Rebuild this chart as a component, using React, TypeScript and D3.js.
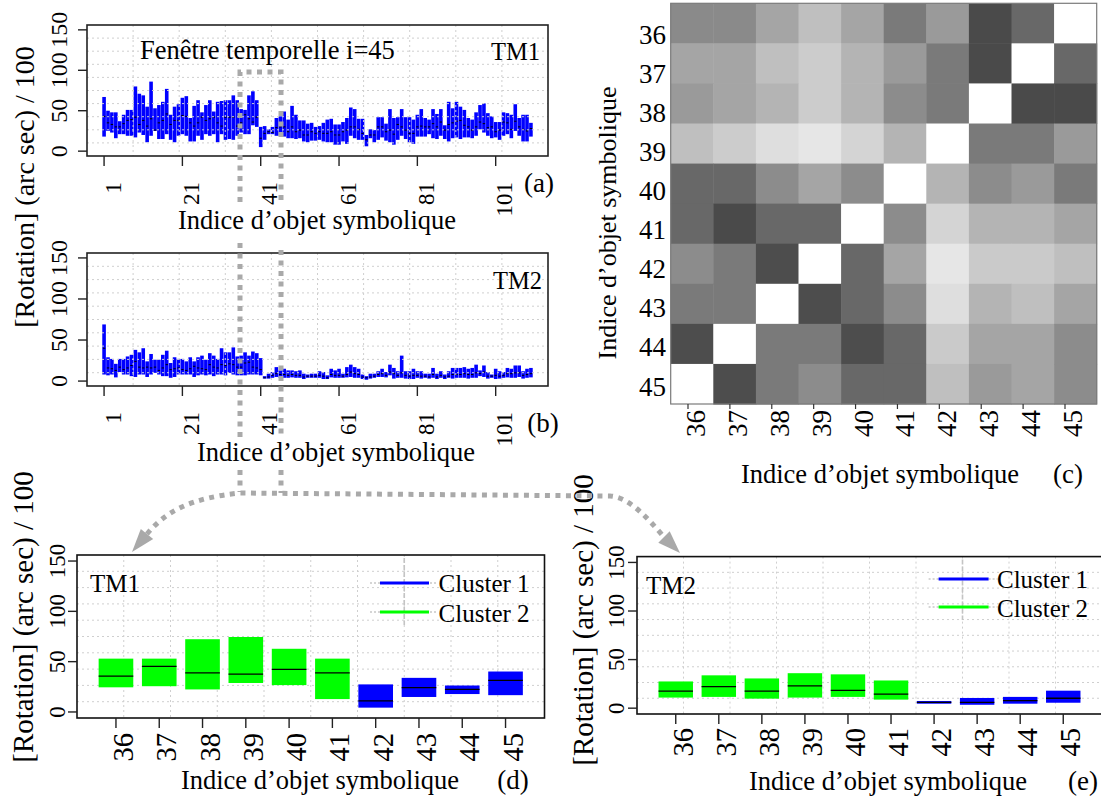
import React from "react";
import * as d3 from "d3";

const FONT = "'Liberation Serif', 'Times New Roman', serif";

// ---------- data ----------
const objectIndex = d3.range(1, 111);
const seriesTicks = [1, 21, 41, 61, 81, 101];
const rotTicks = [0, 50, 100, 150];
const windowIdx = [36, 37, 38, 39, 40, 41, 42, 43, 44, 45];

const tm1Hi = [
  67, 50, 48, 48, 37, 45, 51, 51, 80, 71,
  69, 55, 86, 53, 57, 61, 77, 45, 55, 58,
  66, 68, 41, 56, 63, 48, 57, 63, 49, 61,
  62, 63, 63, 69, 63, 52, 51, 69, 74, 63,
  30, 31, 27, 30, 41, 43, 49, 39, 56, 45,
  38, 38, 34, 35, 30, 31, 35, 39, 40, 33,
  33, 36, 41, 54, 52, 40, 40, 20, 27, 26,
  42, 42, 34, 52, 41, 42, 52, 42, 42, 39,
  45, 52, 41, 39, 52, 46, 52, 32, 61, 53,
  61, 55, 51, 41, 39, 48, 57, 59, 47, 43,
  36, 36, 48, 47, 45, 58, 41, 45, 45, 35,
];
const tm1Lo = [
  18, 25, 23, 16, 21, 21, 19, 19, 17, 23,
  20, 11, 19, 25, 15, 15, 21, 14, 11, 19,
  21, 19, 12, 12, 19, 14, 21, 19, 21, 11,
  21, 14, 15, 14, 19, 23, 21, 21, 32, 30,
  5, 14, 21, 21, 19, 19, 18, 16, 16, 15,
  16, 12, 11, 13, 13, 14, 12, 11, 11, 8,
  8, 12, 9, 19, 16, 14, 14, 6, 16, 11,
  14, 17, 13, 11, 8, 14, 19, 15, 11, 9,
  18, 18, 18, 21, 16, 15, 19, 15, 12, 16,
  17, 15, 17, 17, 16, 19, 27, 23, 19, 16,
  17, 14, 19, 21, 16, 25, 19, 12, 12, 18,
];
const tm1Med = [
  43, 35, 33, 30, 30, 34, 38, 39, 42, 33,
  38, 31, 40, 26, 35, 38, 46, 33, 38, 38,
  44, 43, 35, 31, 35, 42, 38, 40, 42, 35,
  31, 42, 42, 42, 31, 35, 45, 40, 36, 42,
  16, 22, 24, 23, 29, 30, 30, 24, 30, 24,
  26, 20, 20, 24, 22, 24, 22, 22, 24, 20,
  20, 24, 26, 30, 30, 27, 22, 14, 20, 20,
  30, 30, 24, 26, 21, 33, 30, 26, 22, 22,
  30, 31, 30, 30, 34, 30, 36, 26, 33, 35,
  37, 38, 32, 30, 26, 30, 36, 34, 29, 30,
  24, 26, 36, 35, 27, 37, 30, 27, 25, 28,
];

const tm2Hi = [
  69, 29, 27, 21, 27, 27, 30, 32, 38, 35,
  40, 24, 33, 26, 26, 32, 37, 22, 29, 27,
  27, 24, 29, 24, 29, 31, 26, 34, 31, 27,
  40, 35, 35, 41, 30, 31, 35, 31, 36, 34,
  28, 6, 9, 11, 17, 13, 15, 13, 13, 12,
  13, 9, 8, 9, 9, 12, 11, 7, 15, 13,
  15, 9, 17, 20, 17, 15, 8, 6, 9, 9,
  12, 15, 11, 20, 16, 12, 31, 12, 12, 15,
  12, 12, 9, 9, 16, 9, 12, 8, 12, 16,
  16, 16, 17, 15, 16, 20, 13, 19, 11, 8,
  15, 12, 11, 16, 15, 19, 19, 12, 15, 16,
];
const tm2Lo = [
  8, 7, 8, 4.5, 11, 8, 8, 6, 5, 8,
  8, 5, 8, 10, 8, 6, 6, 4, 5, 8,
  8, 8, 8, 5, 7, 8, 7, 8, 6, 8,
  8, 7, 10, 8, 7, 7, 7, 8, 8, 8,
  7, 3, 3, 4, 5, 4, 4, 4, 4.5, 4,
  4, 2.5, 4, 4, 4, 4, 2.5, 2.5, 4.5, 4,
  4, 4, 4.5, 5, 4, 4, 2.5, 1.6, 3, 4,
  5, 5, 4.5, 7, 3, 4, 4, 3, 2.5, 2.5,
  4, 3, 4, 3, 4, 2.5, 4, 2.5, 4, 3,
  4, 4, 4, 3, 4, 4, 6, 5, 3, 4,
  2.5, 3, 4, 4.5, 4, 4, 5, 3, 4, 4.5,
];
const tm2Med = [
  40, 16, 15, 13, 17, 14, 16, 19, 24, 17,
  16, 17, 16, 17, 13, 16, 20, 14, 15, 16,
  14, 13, 15, 18, 16, 15, 14, 20, 17, 16,
  20, 19, 21, 20, 17, 17, 22, 23, 17, 16,
  14, 4, 5, 7, 9, 8, 8, 7, 8, 7,
  7, 5, 6, 6, 6, 7, 6, 4, 8, 7,
  7, 6, 8, 11, 9, 8, 5, 4, 5, 6,
  8, 9, 7, 11, 9, 7, 10, 7, 6, 7,
  7, 6, 6, 5, 8, 5, 7, 5, 6, 8,
  8, 8, 9, 8, 8, 10, 9, 11, 6, 6,
  7, 6, 7, 9, 9, 10, 10, 7, 8, 9,
];

const winTm1Lo = [24.5, 25.6, 22.4, 28.8, 26.7, 12.8, 4.3, 14.9, 17.8, 16.7];
const winTm1Hi = [53, 53, 72.3, 74.5, 62.8, 53, 27.4, 33.9, 26.3, 40.2];
const winTm1Med = [35.6, 45.3, 38.8, 37.7, 42.4, 38.8, 11, 24.2, 22.4, 31.4];
const winTm2Lo = [10.9, 11.6, 9.8, 10.9, 11.6, 8.8, 4.6, 3.5, 4.6, 5.6];
const winTm2Hi = [27.5, 33.8, 30.6, 36, 34.8, 28.5, 7.4, 10.5, 11.6, 18];
const winTm2Med = [17.6, 22.2, 17.6, 22.9, 18.3, 14.4, 6, 6, 7.8, 10.2];
const clusterOf = [2, 2, 2, 2, 2, 2, 1, 1, 1, 1];
const clusterNames = ["Cluster 1", "Cluster 2"];
const clusterColors = ["#0000ff", "#00ff00"];

// grey level (0-255) of each heat-map cell, rows 36..45 (top to bottom), columns 36..45
const heatLevels = [
  [138, 138, 165, 191, 165, 122, 154, 74, 104, 255],
  [165, 165, 191, 204, 180, 154, 122, 74, 255, 104],
  [154, 165, 180, 204, 180, 140, 122, 255, 74, 74],
  [191, 204, 222, 230, 212, 180, 255, 122, 122, 154],
  [104, 104, 140, 165, 140, 255, 180, 140, 154, 122],
  [104, 74, 104, 104, 255, 140, 212, 180, 180, 165],
  [140, 122, 77, 255, 104, 165, 230, 202, 202, 191],
  [122, 122, 255, 77, 104, 140, 222, 180, 191, 165],
  [77, 255, 122, 122, 77, 104, 202, 165, 165, 140],
  [255, 77, 122, 140, 104, 104, 191, 154, 165, 140],
];

// ---------- helpers ----------
const GRID = "#cfcfcf";

function Grid({ x0, x1, y0, y1 }: any) {
  const ks = d3.range(1, 10);
  return (
    <g stroke={GRID} strokeWidth={1} strokeDasharray="2 3" fill="none">
      {ks.map((k) => {
        const gx = x0 + ((x1 - x0) * k) / 10;
        return <line key={"v" + k} x1={gx} x2={gx} y1={y0} y2={y1} />;
      })}
      {ks.map((k) => {
        const gy = y0 + ((y1 - y0) * k) / 10;
        return <line key={"h" + k} x1={x0} x2={x1} y1={gy} y2={gy} />;
      })}
    </g>
  );
}

function VText({ x, y, size, anchor, children }: any) {
  return (
    <text
      transform={`translate(${x},${y}) rotate(-90)`}
      fontSize={size}
      textAnchor={anchor}
      fontFamily={FONT}
      fill="#000"
    >
      {children}
    </text>
  );
}

function SeriesPanel(p: any) {
  const { lo, hi, med, x0, x1, y0, y1, tickEndY, tag, tagX, tagY, letter, letterX, letterY, titleX, titleY } = p;
  const x = d3.scaleLinear().domain([1 - 4.36, 110 + 4.36]).range([x0, x1]);
  const y = d3.scaleLinear().domain([-6, 156]).range([y1, y0]);
  const step = x(2) - x(1);
  const bw = step * 0.92;
  const mw = step * 0.6;
  return (
    <g>
      {objectIndex.map((idx, i) => (
        <rect
          key={idx}
          x={x(idx) - bw / 2}
          y={y(hi[i])}
          width={bw}
          height={y(lo[i]) - y(hi[i])}
          fill="#0000ff"
        />
      ))}
      {objectIndex.map((idx, i) => (
        <line
          key={"m" + idx}
          x1={x(idx) - mw / 2}
          x2={x(idx) + mw / 2}
          y1={y(med[i])}
          y2={y(med[i])}
          stroke="#000"
          strokeWidth={1}
        />
      ))}
      <Grid x0={x0} x1={x1} y0={y0} y1={y1} />
      <rect x={x0} y={y0} width={x1 - x0} height={y1 - y0} fill="none" stroke="#222" strokeWidth={1.6} />
      {seriesTicks.map((t) => (
        <g key={t}>
          <line x1={x(t)} x2={x(t)} y1={y1} y2={y1 + 10} stroke="#222" strokeWidth={1.4} />
          <VText x={x(t) + 16.5} y={tickEndY} size={23} anchor="end">
            {t}
          </VText>
        </g>
      ))}
      {rotTicks.map((t) => (
        <g key={t}>
          <line x1={x0} x2={x0 - 9} y1={y(t)} y2={y(t)} stroke="#222" strokeWidth={1.4} />
          <VText x={67} y={y(t)} size={24} anchor="middle">
            {t}
          </VText>
        </g>
      ))}
      <text x={tagX} y={tagY} fontSize={24.5} textAnchor="end" fontFamily={FONT}>
        {tag}
      </text>
      <text x={letterX} y={letterY} fontSize={27} textAnchor="middle" fontFamily={FONT}>
        {letter}
      </text>
      <text x={titleX} y={titleY} fontSize={26.5} textAnchor="middle" fontFamily={FONT}>
        Indice d’objet symbolique
      </text>
    </g>
  );
}

function BoxPanel(p: any) {
  const { lo, hi, med, x0, x1, y0, y1, yTickX, xTickEndY, tag, tagX, tagY, legX0, legX1, legRows, legTextX,
    letter, letterX, letterY, titleX, titleY, yTitleX, yTitleY } = p;
  const x = d3.scaleLinear().domain([0.1, 10.9]).range([x0, x1]);
  const y = d3.scaleLinear().domain([-6, 156]).range([y1, y0]);
  const bw = (x(2) - x(1)) * 0.8;
  const gridX7 = x0 + ((x1 - x0) * 7) / 10;
  return (
    <g>
      <Grid x0={x0} x1={x1} y0={y0} y1={y1} />
      {windowIdx.map((w, i) => (
        <g key={w}>
          <rect
            x={x(i + 1) - bw / 2}
            y={y(hi[i])}
            width={bw}
            height={y(lo[i]) - y(hi[i])}
            fill={clusterColors[clusterOf[i] - 1]}
          />
          <line
            x1={x(i + 1) - bw / 2}
            x2={x(i + 1) + bw / 2}
            y1={y(med[i])}
            y2={y(med[i])}
            stroke="#000"
            strokeWidth={1.3}
          />
        </g>
      ))}
      <rect x={x0} y={y0} width={x1 - x0} height={y1 - y0} fill="none" stroke="#111" strokeWidth={1.6} />
      {windowIdx.map((w, i) => (
        <g key={"t" + w}>
          <line x1={x(i + 1)} x2={x(i + 1)} y1={y1} y2={y1 + 10} stroke="#222" strokeWidth={1.4} />
          <VText x={x(i + 1) + 17} y={xTickEndY} size={28.5} anchor="end">
            {w}
          </VText>
        </g>
      ))}
      {rotTicks.map((t) => (
        <g key={"y" + t}>
          <line x1={x0} x2={x0 - 9} y1={y(t)} y2={y(t)} stroke="#222" strokeWidth={1.4} />
          <VText x={yTickX} y={y(t)} size={23} anchor="middle">
            {t}
          </VText>
        </g>
      ))}
      <text x={tagX} y={tagY} fontSize={25} fontFamily={FONT}>
        {tag}
      </text>
      {/* legend */}
      <line x1={gridX7} x2={gridX7} y1={y0 + 3} y2={legRows[1] + 13} stroke="#c4c4c4" strokeWidth={1.6} strokeDasharray="5 2" />
      {clusterNames.map((nm, k) => (
        <g key={nm}>
          <line x1={legX0 - 10} x2={legX1 + 9} y1={legRows[k]} y2={legRows[k]} stroke="#c8c8c8" strokeWidth={1.5} strokeDasharray="2 2" />
          <line x1={legX0} x2={legX1} y1={legRows[k]} y2={legRows[k]} stroke={clusterColors[k]} strokeWidth={3.2} />
          <text x={legTextX} y={legRows[k] + 8.5 + k * 1.5} fontSize={25} fontFamily={FONT}>
            {nm}
          </text>
        </g>
      ))}
      <text x={titleX} y={titleY} fontSize={26.5} textAnchor="middle" fontFamily={FONT}>
        Indice d’objet symbolique
      </text>
      <text x={letterX} y={letterY} fontSize={27} textAnchor="middle" fontFamily={FONT}>
        {letter}
      </text>
      <VText x={yTitleX} y={yTitleY} size={29} anchor="middle">
        [Rotation] (arc sec) / 100
      </VText>
    </g>
  );
}

function HeatPanel() {
  const cx = d3.scaleBand<number>().domain(windowIdx).range([670.7, 1096.7]);
  const cy = d3.scaleBand<number>().domain(windowIdx).range([3.3, 404]);
  const lx = d3.scaleLinear().domain([36, 45]).range([696, 1073]);
  const ly = d3.scaleLinear().domain([36, 45]).range([35, 386.5]);
  return (
    <g>
      {windowIdx.map((r, ri) =>
        windowIdx.map((c, ci) => {
          const l = heatLevels[ri][ci];
          return (
            <rect
              key={r + "-" + c}
              x={cx(c)}
              y={cy(r)}
              width={cx.bandwidth() + 0.5}
              height={cy.bandwidth() + 0.5}
              fill={d3.rgb(l, l, l).formatHex()}
            />
          );
        })
      )}
      <rect x={670.7} y={3.3} width={426} height={400.7} fill="none" stroke="#7a7a7a" strokeWidth={1.2} />
      {windowIdx.map((w) => (
        <g key={w}>
          <line x1={lx(w) - 8} x2={lx(w) - 8} y1={404} y2={409} stroke="#333" strokeWidth={1.2} />
          <VText x={lx(w) + 9} y={410} size={27} anchor="end">
            {w}
          </VText>
          <text x={666} y={ly(w) + 9} fontSize={27} textAnchor="end" fontFamily={FONT}>
            {w}
          </text>
        </g>
      ))}
      <text x={880} y={483} fontSize={26.5} textAnchor="middle" fontFamily={FONT}>
        Indice d’objet symbolique
      </text>
      <text x={1068} y={483} fontSize={27} textAnchor="middle" fontFamily={FONT}>
        (c)
      </text>
      <VText x={616} y={223} size={26} anchor="middle">
        Indice d’objet symbolique
      </VText>
    </g>
  );
}

function Connectors() {
  const col = "#a9a9a9";
  const dot = { stroke: col, strokeWidth: 5, strokeDasharray: "5 5.5", fill: "none" };
  return (
    <g>
      <path d="M240 202 L240 72 L281 72 L281 202" {...dot} />
      <line x1={240} x2={240} y1={243} y2={437} {...dot} />
      <line x1={281} x2={281} y1={250} y2={435} {...dot} />
      <line x1={240} x2={240} y1={470} y2={492} {...dot} />
      <line x1={281} x2={281} y1={470} y2={493} {...dot} />
      <path d="M147 534 C165 512 190 498 240 493 L610 496 C628 497 645 515 664 537" {...dot} />
      <polygon points="132,552 153.2,539.1 140.8,528.9" fill={col} />
      <polygon points="680,553 658.3,542.7 669.7,531.3" fill={col} />
    </g>
  );
}

export default function App() {
  return (
    <svg
      width={1101}
      height={805}
      viewBox="0 0 1101 805"
      style={{ position: "absolute", left: 0, top: 0, background: "#fff" }}
    >
      <rect x={0} y={0} width={1101} height={805} fill="#fff" />
      <SeriesPanel
        lo={tm1Lo} hi={tm1Hi} med={tm1Med}
        x0={87} x1={548} y0={25} y1={156}
        tickEndY={182}
        tag="TM1" tagX={540} tagY={60}
        letter="(a)" letterX={539} letterY={192}
        titleX={317} titleY={229}
      />
      <text x={140} y={59} fontSize={26.5} fontFamily={FONT}>
        Fenêtre temporelle i=45
      </text>
      <SeriesPanel
        lo={tm2Lo} hi={tm2Hi} med={tm2Med}
        x0={87} x1={548} y0={253} y1={386}
        tickEndY={412}
        tag="TM2" tagX={542} tagY={289}
        letter="(b)" letterX={543} letterY={432}
        titleX={336} titleY={461}
      />
      <VText x={34} y={187} size={28} anchor="middle">
        [Rotation] (arc sec) / 100
      </VText>
      <HeatPanel />
      <BoxPanel
        lo={winTm1Lo} hi={winTm1Hi} med={winTm1Med}
        x0={77} x1={544.5} y0={555} y1={718}
        yTickX={64.7} xTickEndY={733}
        tag="TM1" tagX={90} tagY={592}
        legX0={380} legX1={429} legRows={[583, 612]} legTextX={438.6}
        letter="(d)" letterX={513} letterY={789}
        titleX={320} titleY={789}
        yTitleX={33} yTitleY={617}
      />
      <BoxPanel
        lo={winTm2Lo} hi={winTm2Hi} med={winTm2Med}
        x0={637} x1={1102} y0={556.6} y1={714}
        yTickX={624} xTickEndY={728}
        tag="TM2" tagX={646} tagY={594}
        legX0={938.6} legX1={988.6} legRows={[579, 607]} legTextX={997}
        letter="(e)" letterX={1083} letterY={790}
        titleX={888} titleY={790}
        yTitleX={593} yTitleY={620}
      />
      <Connectors />
    </svg>
  );
}
